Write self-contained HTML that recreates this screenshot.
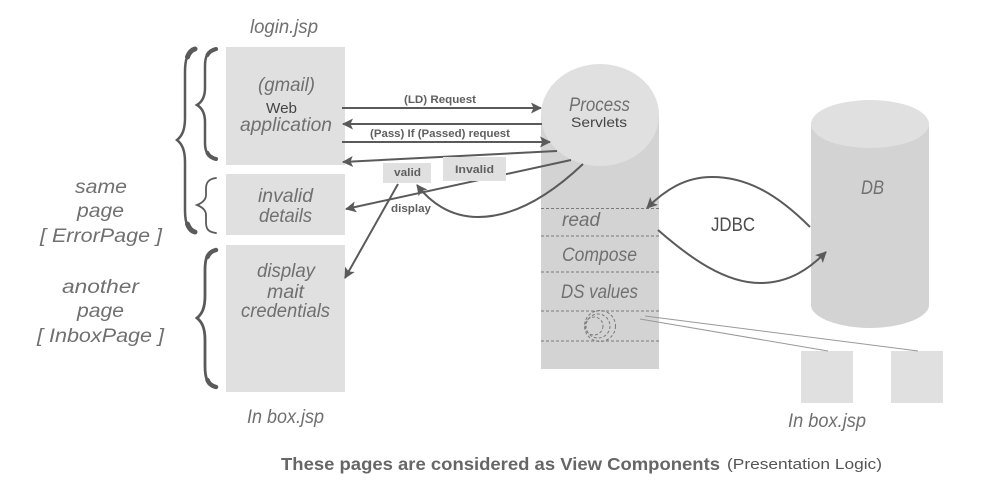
<!DOCTYPE html>
<html><head><meta charset="utf-8"><style>
html,body{margin:0;padding:0;background:#fff}
svg{display:block}
text{font-family:"Liberation Sans",sans-serif}
.i{font-style:italic;fill:#707070;font-size:19.5px}
.b{font-weight:bold;fill:#5f5f5f;font-size:11px}
.l{fill:none;stroke:#5a5a5a;stroke-width:2}
.d{fill:none;stroke:#7a7a7a;stroke-width:1;stroke-dasharray:3 2}
.br{fill:none;stroke:#5a5a5a;stroke-linecap:round}
</style></head><body>
<svg width="1000" height="497" viewBox="0 0 1000 497" xmlns="http://www.w3.org/2000/svg">
<defs><marker id="a" markerUnits="userSpaceOnUse" markerWidth="12" markerHeight="12" refX="10" refY="6" orient="auto"><path d="M0,0.500 L11,6 L0,11.500 L2.500,6Z" fill="#5a5a5a"/></marker></defs>
<rect x="226" y="47" width="119" height="118" fill="#e0e0e0"/>
<rect x="226" y="174" width="119" height="61" fill="#e0e0e0"/>
<rect x="226" y="245" width="119" height="147" fill="#e0e0e0"/>
<rect x="541" y="115" width="118" height="254" fill="#d3d3d3"/>
<ellipse cx="600" cy="115" rx="59" ry="51" fill="#e0e0e0"/>
<path d="M811,124 V305 C811,318 840,328 870,328 C900,328 929,318 929,305 V124Z" fill="#d3d3d3"/>
<ellipse cx="870" cy="124" rx="59" ry="24" fill="#e0e0e0"/>
<rect x="801" y="351" width="52" height="52" fill="#e0e0e0"/>
<rect x="891" y="351" width="52" height="52" fill="#e0e0e0"/>
<g class="d"><path d="M541,208.500H659M541,236H659M541,272H659M541,311H659M541,341H659"/>
<circle cx="594" cy="326" r="9"/><circle cx="598" cy="326" r="12"/><circle cx="600" cy="326" r="15.500"/></g>
<path d="M640,319 L828,351M645,316 L918,351" fill="none" stroke="#999" stroke-width="1"/>
<g class="l">
<path d="M342,108H541" marker-end="url(#a)"/>
<path d="M542,124H343" marker-end="url(#a)"/>
<path d="M342,142H550" marker-end="url(#a)"/>
<path d="M557,151L343,162" marker-end="url(#a)"/>
<path d="M571,160L346,209" marker-end="url(#a)"/>
<path d="M583,164C545,200 510,217 478,217C450,217 430,202 417,185" marker-end="url(#a)"/>
<path d="M398,184L345,278" marker-end="url(#a)"/>
<path d="M810,227C775,192 745,177 712,177C685,177 665,190 647,208" marker-end="url(#a)"/>
<path d="M658,230C690,258 725,283 760,283C790,283 810,268 826,252" marker-end="url(#a)"/>
</g>
<rect x="383" y="163" width="48" height="20" fill="#e0e0e0"/>
<rect x="443" y="157" width="63" height="24" fill="#e0e0e0"/>
<g class="br">
<path d="M195,49C187,52 185,60 185,72V118C185,130 182,136 177,140C182,144 185,150 185,162V210C185,224 188,230 195,232" stroke-width="2.500"/>
<path d="M195,49C191,50 189,53 187.500,57M195,232C191,231 189,228 187.500,224" stroke-width="5"/>
<path d="M216,49C207,51 205,57 205,66V88C205,97 202,102 197,105C202,108 205,113 205,122V143C205,152 208,157 216,159" stroke-width="2.500"/>
<path d="M216,49C212,50 209,52 207.500,55M216,159C212,158 209,156 207.500,153" stroke-width="4"/>
<path d="M216,178C208,179 206,183 206,189V195C206,200 202,203 197,205C202,207 206,210 206,215V222C206,229 208,232 216,233" stroke-width="1.800"/>
<path d="M216,250C207,252 205,258 205,270V296C205,308 202,314 197,318C202,322 205,328 205,340V366C205,378 207,385 216,387" stroke-width="2.800"/>
<path d="M216,250C212,251 209,253 207.500,257M216,387C212,386 209,384 207.500,380" stroke-width="4.500"/>
</g>
<text class="i" x="250" y="33" textLength="68" lengthAdjust="spacingAndGlyphs">login.jsp</text>
<text class="i" x="258" y="91" textLength="57" lengthAdjust="spacingAndGlyphs">(gmail)</text>
<text x="266" y="113" font-size="15" fill="#444" textLength="31" lengthAdjust="spacingAndGlyphs">Web</text>
<text class="i" x="240" y="131" textLength="92" lengthAdjust="spacingAndGlyphs">application</text>
<text class="i" x="258" y="202" textLength="55" lengthAdjust="spacingAndGlyphs">invalid</text>
<text class="i" x="259" y="222" textLength="53" lengthAdjust="spacingAndGlyphs">details</text>
<text class="i" x="257" y="277" textLength="58" lengthAdjust="spacingAndGlyphs">display</text>
<text class="i" x="267" y="298" textLength="37" lengthAdjust="spacingAndGlyphs">mait</text>
<text class="i" x="241" y="317" textLength="89" lengthAdjust="spacingAndGlyphs">credentials</text>
<text class="i" x="247" y="423" textLength="77" lengthAdjust="spacingAndGlyphs">In box.jsp</text>
<text class="i" x="788" y="427" textLength="78" lengthAdjust="spacingAndGlyphs">In box.jsp</text>
<text class="i" x="75" y="193" textLength="52" lengthAdjust="spacingAndGlyphs">same</text>
<text class="i" x="77" y="217" textLength="47" lengthAdjust="spacingAndGlyphs">page</text>
<text class="i" x="40" y="242" textLength="122" lengthAdjust="spacingAndGlyphs">[ ErrorPage ]</text>
<text class="i" x="62" y="293" textLength="77" lengthAdjust="spacingAndGlyphs">another</text>
<text class="i" x="77" y="317" textLength="47" lengthAdjust="spacingAndGlyphs">page</text>
<text class="i" x="37" y="342" textLength="127" lengthAdjust="spacingAndGlyphs">[ InboxPage ]</text>
<text class="i" x="569" y="111" textLength="61" lengthAdjust="spacingAndGlyphs">Process</text>
<text x="571" y="127" font-size="14" fill="#444" textLength="56" lengthAdjust="spacingAndGlyphs">Servlets</text>
<text class="i" x="562" y="226" textLength="38" lengthAdjust="spacingAndGlyphs">read</text>
<text class="i" x="562" y="261" textLength="75" lengthAdjust="spacingAndGlyphs">Compose</text>
<text class="i" x="561" y="298" textLength="77" lengthAdjust="spacingAndGlyphs">DS values</text>
<text class="i" x="861" y="194" textLength="23" lengthAdjust="spacingAndGlyphs">DB</text>
<text x="711" y="231" font-size="19" fill="#4c4c4c" textLength="44" lengthAdjust="spacingAndGlyphs">JDBC</text>
<text class="b" x="404" y="103" textLength="72" lengthAdjust="spacingAndGlyphs">(LD) Request</text>
<text class="b" x="370" y="137" textLength="140" lengthAdjust="spacingAndGlyphs">(Pass) If (Passed) request</text>
<text class="b" x="394" y="176" textLength="27" lengthAdjust="spacingAndGlyphs">valid</text>
<text class="b" x="455" y="173" textLength="39" lengthAdjust="spacingAndGlyphs">Invalid</text>
<text class="b" x="391" y="212" textLength="40" lengthAdjust="spacingAndGlyphs">display</text>
<text x="281" y="470" font-size="17.500" font-weight="bold" fill="#666" textLength="439" lengthAdjust="spacingAndGlyphs">These pages are considered as View Components</text>
<text x="727" y="469" font-size="15" fill="#555" textLength="155" lengthAdjust="spacingAndGlyphs">(Presentation Logic)</text>
</svg>
</body></html>
